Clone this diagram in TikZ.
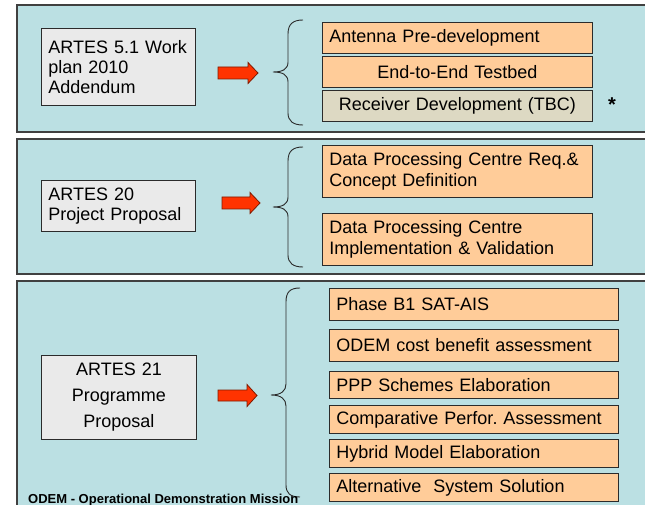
\documentclass[tikz,border=0pt]{standalone}
\usepackage{fontspec}
\setmainfont{Liberation Sans}
\frenchspacing
\definecolor{panelfill}{HTML}{BBE0E3}
\definecolor{panelline}{HTML}{404040}
\definecolor{srcfill}{HTML}{EAEAEA}
\definecolor{boxline}{HTML}{2B2B2B}
\definecolor{taskfill}{HTML}{FFCC99}
\definecolor{recfill}{HTML}{DDD9C3}
\definecolor{arrowred}{HTML}{FF3300}
\definecolor{arrowline}{HTML}{7F1A00}
\begin{document}
\begin{tikzpicture}[x=1pt,y=-1pt,
  panel/.style={draw=panelline, fill=panelfill, line width=1.2pt},
  srcbox/.style={draw=boxline, fill=srcfill, line width=0.9pt, inner xsep=7pt, inner ysep=0pt,
    anchor=north west, font=\fontsize{18}{20}\selectfont},
  task/.style={draw=boxline, fill=taskfill, line width=0.9pt, inner xsep=7pt, inner ysep=0pt,
    anchor=north west, font=\fontsize{18}{21}\selectfont, minimum width=270pt, text width=256pt},
  taskwide/.style={task, minimum width=289pt, text width=275pt},
  redarrow/.style={fill=arrowred, draw=arrowline, line width=0.8pt, line join=miter},
  bracket/.style={draw=boxline, line width=0.9pt}
]
\useasboundingbox (0,0) rectangle (645,505);
\fill[white] (0,0) rectangle (645,505);

% panels
\path[panel] (17,5) rectangle (660,132);
\path[panel] (17,139) rectangle (660,274);
\path[panel] (17,281) rectangle (660,520);

% panel 1
\node[srcbox, minimum width=154pt, minimum height=77pt, text width=140pt, align=left] (src1) at (41,28)
  {ARTES 5.1 Work\\plan 2010\\Addendum};
\draw[redarrow] (218,67) -- (248,67) -- (248,62.5) -- (258,73) -- (248,83.5) -- (248,79) -- (218,79) -- cycle;
\draw[bracket] (303,20) .. controls (293,20) and (288,24) .. (288,34) -- (288,62)
  .. controls (288,69) and (283,72) .. (273,72) .. controls (283,72) and (288,75) .. (288,82)
  -- (288,113) .. controls (288,121) and (293,125) .. (303,125);
\node[task, minimum height=31pt, align=left] (t11) at (322,22) {Antenna Pre-development};
\node[task, minimum height=31pt, align=center] (t12) at (322,56) {End-to-End Testbed};
\node[task, fill=recfill, minimum height=31pt, align=center] (t13) at (322,90) {Receiver Development (TBC)};
\node[font=\fontsize{20}{22}\selectfont\bfseries, anchor=base, inner sep=0pt] (star) at (612,112) {*};

% panel 2
\node[srcbox, minimum width=154pt, minimum height=51pt, text width=140pt, align=left] (src2) at (41,180)
  {ARTES 20\\Project Proposal};
\draw[redarrow] (222,197) -- (250,197) -- (250,192.5) -- (260,203) -- (250,213.5) -- (250,209) -- (222,209) -- cycle;
\draw[bracket] (303,147) .. controls (293,147) and (288,151) .. (288,161) -- (288,197)
  .. controls (288,204) and (283,207) .. (273,207) .. controls (283,207) and (288,210) .. (288,217)
  -- (288,255) .. controls (288,263) and (293,267) .. (303,267);
\node[task, minimum height=52pt, align=left] (t21) at (322,145)
  {Data Processing Centre Req.\&\\Concept Definition};
\node[task, minimum height=52pt, align=left] (t22) at (322,213)
  {Data Processing Centre\\Implementation \& Validation};

% panel 3
\node[srcbox, minimum width=155pt, minimum height=84pt, text width=141pt, align=center,
  font=\fontsize{18}{26}\selectfont] (src3) at (41,355)
  {ARTES 21\\Programme\\Proposal};
\draw[redarrow] (218,390) -- (247,390) -- (247,384.5) -- (257,395.5) -- (247,406.5) -- (247,401) -- (218,401) -- cycle;
\draw[bracket] (300,288) .. controls (290,288) and (286,292) .. (286,302) -- (286,384)
  .. controls (286,391) and (281,395) .. (271,395) .. controls (281,395) and (286,399) .. (286,406)
  -- (286,485) .. controls (286,493) and (290,497) .. (300,497);
\node[taskwide, minimum height=32pt, align=left] (t31) at (329,288) {Phase B1 SAT-AIS};
\node[taskwide, minimum height=32pt, align=left] (t32) at (329,329) {ODEM cost benefit assessment};
\node[taskwide, minimum height=27pt, align=left] (t33) at (329,371) {PPP Schemes Elaboration};
\node[taskwide, minimum height=28pt, align=left] (t34) at (329,405) {Comparative Perfor. Assessment};
\node[taskwide, minimum height=28pt, align=left] (t35) at (329,439) {Hybrid Model Elaboration};
\node[taskwide, minimum height=28pt, align=left] (t36) at (329,473) {Alternative\ \ System Solution};

\node[font=\fontsize{13}{15}\selectfont\bfseries, anchor=base west, inner sep=0pt] (note) at (28,503)
  {ODEM - Operational Demonstration Mission};
\end{tikzpicture}
\end{document}
